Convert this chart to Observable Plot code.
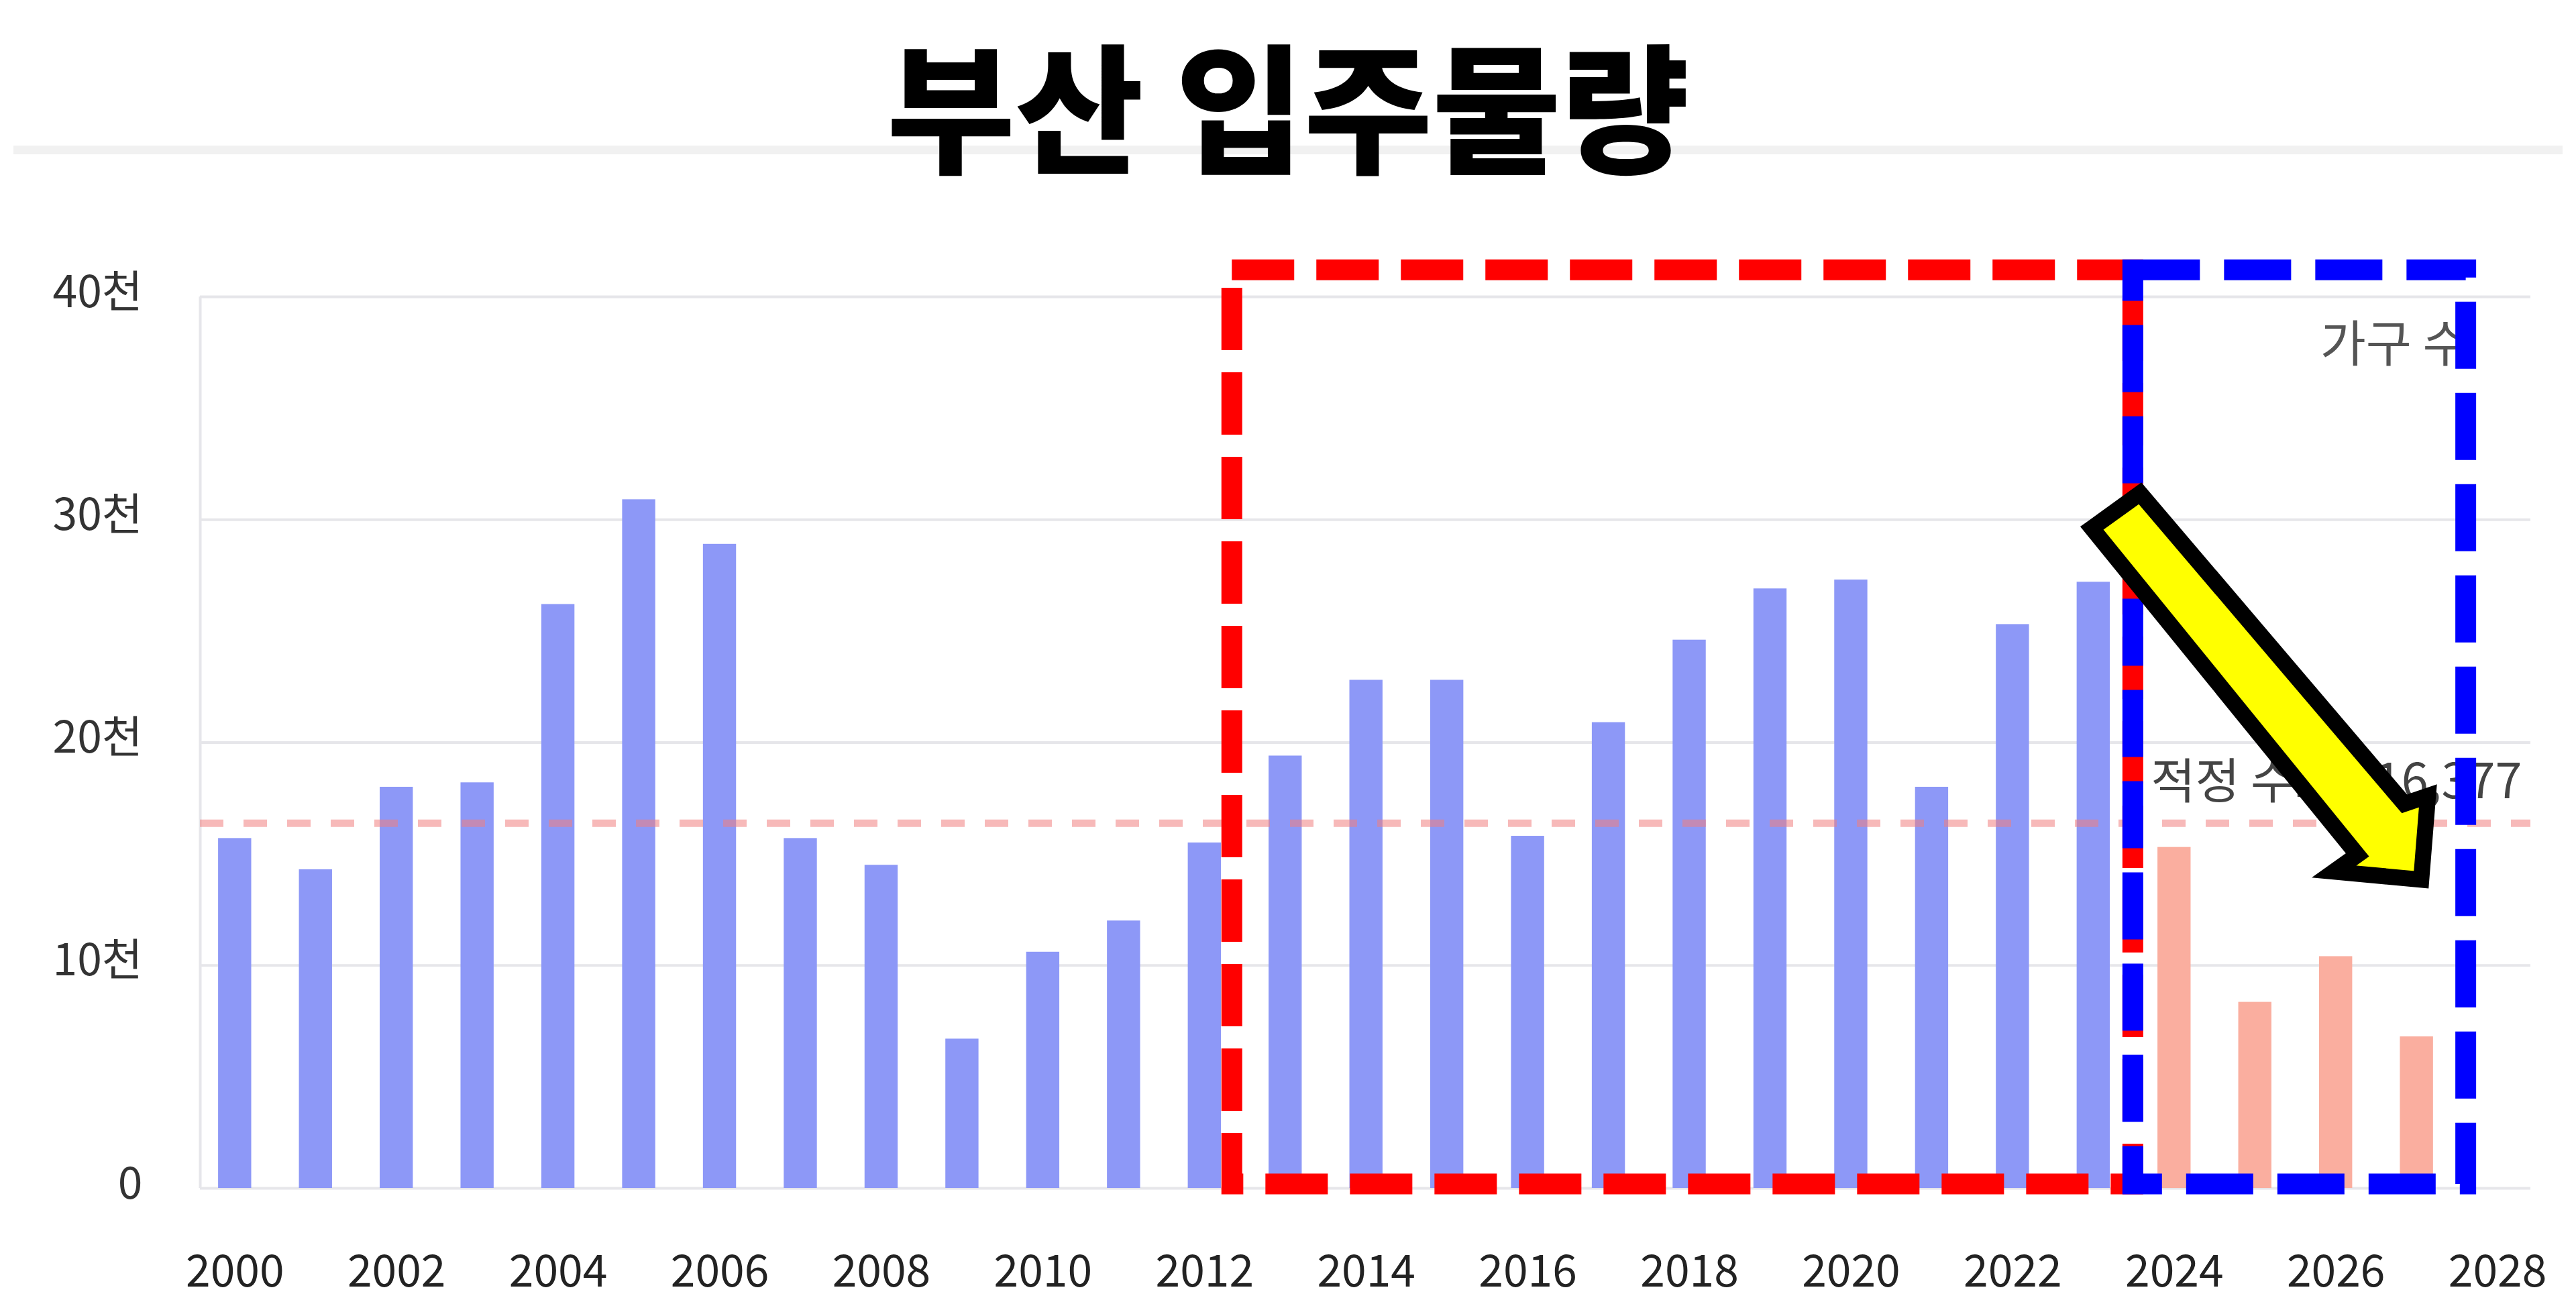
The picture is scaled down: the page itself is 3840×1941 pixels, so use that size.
<!DOCTYPE html>
<html>
<head>
<meta charset="utf-8">
<script src="https://cdn.jsdelivr.net/npm/d3@7"></script>
<script src="https://cdn.jsdelivr.net/npm/@observablehq/plot@0.6"></script>
<style>
  html, body { margin: 0; padding: 0; background: #fff; }
  body { width: 3840px; height: 1941px; overflow: hidden; position: relative; font-family: "Noto Sans CJK KR", "Noto Sans", sans-serif; }
  #header { position: relative; width: 3840px; height: 300px; }
  #rule { position: absolute; left: 20px; top: 217px; width: 3800px; height: 13px; background: #f1f1f1; }
  #title { position: absolute; left: 0; width: 3840px; top: 48px; text-align: center; font-size: 208px; line-height: 1; font-weight: 900; color: #000; font-family: "Noto Sans CJK KR", sans-serif; }
  #chart { position: absolute; left: 0; top: 300px; }
</style>
</head>
<body>
<div id="header"><div id="rule"></div><div id="title">부산 입주물량</div></div>
<div id="chart"></div>
<script>
// ---- data ----
const years = [2000, 2001, 2002, 2003, 2004, 2005, 2006, 2007, 2008, 2009,
               2010, 2011, 2012, 2013, 2014, 2015, 2016, 2017, 2018, 2019,
               2020, 2021, 2022, 2023, 2024, 2025, 2026, 2027];
const supply = [15700, 14300, 18000, 18200, 26200, 30900, 28900, 15700, 14500, 6700,
                10600, 12000, 15500, 19400, 22800, 22800, 15800, 20900, 24600, 26900,
                27300, 18000, 25300, 27200, 15300, 8350, 10400, 6800];
const forecastFrom = 2024;
const xTicks = [2000, 2002, 2004, 2006, 2008, 2010, 2012, 2014, 2016, 2018, 2020, 2022, 2024, 2026, 2028];
const yTicks = [0, 10000, 20000, 30000, 40000];
const xDomain = [1999.57, 2028.41];
const yDomain = [0, 40000];
const demandValue = 16377;
const demandLabel = "적정 수요 : 16,377";
const householdLabel = "가구 수";
// annotation boxes (data units)
const redBox = [{x1: 2012.34, x2: 2023.49, y1: 180, y2: 41200}];
const blueBox = [{x1: 2023.49, x2: 2027.61, y1: 180, y2: 41200}];
// block arrow outline (data units)
const arrowX = [2022.979, 2023.576, 2026.847, 2027.138, 2027.055, 2025.976, 2026.266];
const arrowY = [29620, 31180, 17250, 17610, 13850, 14210, 14960];

const bars = years.map((y, i) => ({year: y, value: supply[i], forecast: y >= forecastFrom}));
const arrow = arrowX.map((x, i) => ({x, y: arrowY[i]}));
const tfmt = d => d === 0 ? "0" : (d / 1000) + "천";
const font = "'Noto Sans CJK KR', 'Noto Sans', sans-serif";

const chart = Plot.plot({
  width: 3840,
  height: 1641,
  marginTop: 142,
  marginBottom: 170,
  marginLeft: 298,
  marginRight: 68,
  style: {fontFamily: font, fontSize: "66px", background: "white", color: "#333"},
  x: {type: "linear", domain: xDomain},
  y: {domain: yDomain},
  marks: [
    Plot.gridY(yTicks, {stroke: "#e6e6ea", strokeOpacity: 1, strokeWidth: 4}),
    Plot.ruleX([xDomain[0]], {stroke: "#e6e6ea", strokeWidth: 4}),
    Plot.axisY(yTicks, {tickFormat: tfmt, tickSize: 0, tickPadding: 86, fontSize: 66, color: "#333", dy: -6, label: null}),
    Plot.axisX(xTicks, {tickFormat: d => String(d), tickSize: 0, tickPadding: 100, fontSize: 66, color: "#222", label: null}),
    Plot.rectY(bars, {
      x1: d => d.year - 0.205,
      x2: d => d.year + 0.205,
      y: "value",
      fill: d => d.forecast ? "#faae9f" : "#8d98f7"
    }),
    Plot.ruleY([demandValue], {stroke: "#f08080", strokeOpacity: 0.55, strokeWidth: 11, strokeDasharray: "35,30"}),
    Plot.text([demandLabel], {x: xDomain[1], y: demandValue, text: d => d, textAnchor: "end", dx: -13, dy: -60, fontSize: 72, fill: "#444"}),
    Plot.text([householdLabel], {x: xDomain[1], y: yDomain[1], text: d => d, textAnchor: "end", dx: -93, dy: 73, fontSize: 74, fill: "#555"}),
    Plot.rect(redBox, {x1: "x1", x2: "x2", y1: "y1", y2: "y2", fill: "none", stroke: "#ff0000", strokeWidth: 31, strokeDasharray: "93,33"}),
    Plot.rect(blueBox, {x1: "x1", x2: "x2", y1: "y1", y2: "y2", fill: "none", stroke: "#0000ff", strokeWidth: 31, strokeDasharray: "100,36"}),
    Plot.line(arrow, {x: "x", y: "y", curve: "linear-closed", fill: "#ffff00", stroke: "#000", strokeWidth: 24, strokeLinejoin: "miter", strokeMiterlimit: 10})
  ]
});
document.getElementById("chart").appendChild(chart);
</script>
</body>
</html>
